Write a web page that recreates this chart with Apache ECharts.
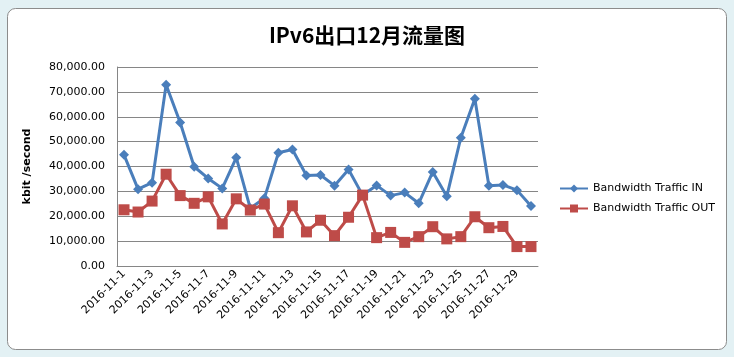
<!DOCTYPE html>
<html><head><meta charset="utf-8">
<script src="https://cdn.jsdelivr.net/npm/echarts@6/dist/echarts.min.js"></script>
<style>html,body{margin:0;padding:0;background:#fff;}#c{width:734px;height:357px;}</style>
</head><body><div id="c"></div>
<script>
var categories = ['2016-11-1','2016-11-2','2016-11-3','2016-11-4','2016-11-5','2016-11-6','2016-11-7','2016-11-8','2016-11-9','2016-11-10','2016-11-11','2016-11-12','2016-11-13','2016-11-14','2016-11-15','2016-11-16','2016-11-17','2016-11-18','2016-11-19','2016-11-20','2016-11-21','2016-11-22','2016-11-23','2016-11-24','2016-11-25','2016-11-26','2016-11-27','2016-11-28','2016-11-29','2016-11-30'];
var trafficIn = [44700,30900,33500,72900,57700,39900,35200,31200,43600,23200,27200,45500,46800,36400,36600,32300,38800,28500,32400,28300,29500,25200,37800,28000,51600,67200,32300,32600,30500,24100];
var trafficOut = [22600,21700,26100,36900,28300,25200,27800,16900,27000,22500,24900,13400,24200,13700,18400,12200,19600,28500,11400,13500,9500,11800,15800,10900,11800,19800,15400,15900,7800,7800];
var yTicks = {min:0, max:80000, interval:10000};

var chart = echarts.init(document.getElementById('c'));
chart.setOption({
  animation:false,
  backgroundColor:'#e3f1f4',
  graphic:[
    {type:'rect', z:-10, shape:{x:7.5,y:8.5,width:719,height:341,r:8}, style:{fill:'#ffffff', stroke:'#8c8c8c', lineWidth:1}}
  ],
  title:{text:'IPv6出口12月流量图', left:'center', top:20,
    textStyle:{fontFamily:'Noto Sans CJK SC', fontWeight:'bold', fontSize:21, color:'#000'}},
  legend:{orient:'vertical', left:554, top:178, itemGap:9, itemWidth:28, itemHeight:10,
    textStyle:{fontFamily:'DejaVu Sans', fontSize:11, color:'#000'},
    data:['Bandwidth Traffic IN','Bandwidth Traffic OUT']},
  grid:{left:117, right:196, top:67, bottom:91},
  xAxis:{type:'category', data:categories, boundaryGap:true,
    axisLine:{show:true, lineStyle:{color:'#868686'}}, axisTick:{show:false},
    axisLabel:{interval:1, rotate:45, fontFamily:'DejaVu Sans', fontSize:11, color:'#000', margin:6}},
  yAxis:{type:'value', min:yTicks.min, max:yTicks.max, interval:yTicks.interval,
    name:'kbit /second', nameLocation:'middle', nameGap:84, nameRotate:90,
    nameTextStyle:{fontFamily:'DejaVu Sans', fontWeight:'bold', fontSize:11, color:'#000'},
    axisLine:{show:true, lineStyle:{color:'#868686'}}, axisTick:{show:false},
    splitLine:{lineStyle:{color:'#868686'}},
    axisLabel:{fontFamily:'DejaVu Sans', fontSize:11, color:'#000', margin:12,
      formatter:function(v){return v.toLocaleString('en-US',{minimumFractionDigits:2,maximumFractionDigits:2});}}},
  series:[
    {name:'Bandwidth Traffic IN', type:'line', data:trafficIn, symbol:'diamond', symbolSize:10, showAllSymbol:true,
      lineStyle:{color:'#4a7ebb', width:3}, itemStyle:{color:'#4a7ebb'}},
    {name:'Bandwidth Traffic OUT', type:'line', data:trafficOut, symbol:'rect', symbolSize:11, showAllSymbol:true,
      lineStyle:{color:'#be4b48', width:3}, itemStyle:{color:'#be4b48'}}
  ]
});
</script></body></html>
